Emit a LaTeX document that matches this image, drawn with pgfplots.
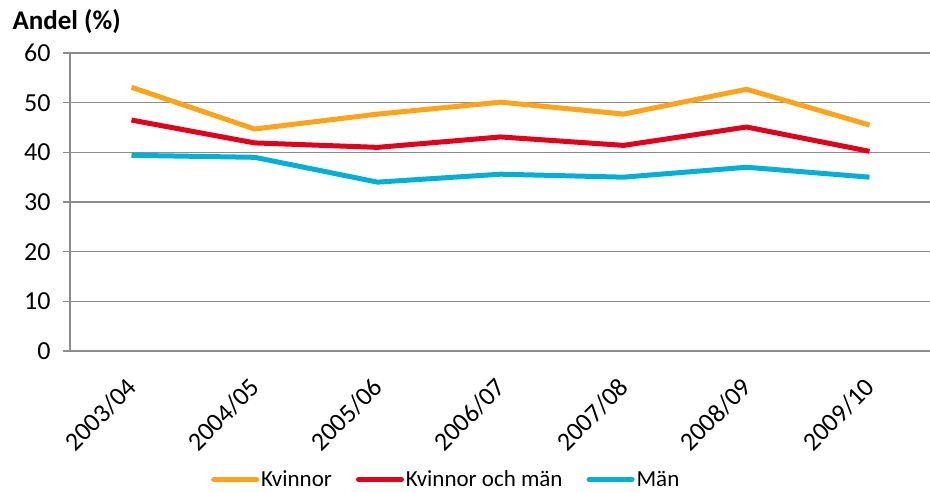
\documentclass[border=0pt]{standalone}
\usepackage{fontspec}
\setmainfont{Carlito}
\usepackage{pgfplots}
\pgfplotsset{compat=1.18}
\definecolor{cK}{HTML}{FFA31A}
\definecolor{cKM}{HTML}{E2001A}
\definecolor{cM}{HTML}{00B0D8}
\definecolor{gr}{HTML}{8C8C8C}
\begin{document}
\begin{tikzpicture}
\useasboundingbox (-70pt,-140pt) rectangle (860pt,351pt);
\begin{axis}[
  at={(0pt,0pt)}, anchor=south west,
  scale only axis, width=861pt, height=298pt,
  xmin=-0.5, xmax=6.5, ymin=0, ymax=60,
  axis x line*=bottom, axis y line*=left,
  axis line style={gr, line width=1.5pt, -},
  ytick={0,10,...,60},
  ymajorgrids, grid style={gr, line width=1.5pt},
  xtick={0,...,6},
  xticklabels={2003/04,2004/05,2005/06,2006/07,2007/08,2008/09,2009/10},
  x tick style={draw=none},
  y tick style={gr, line width=1.5pt},
  tick align=outside, major tick length=7pt,
  extra x ticks={-0.5,0.5,...,6.5},
  extra x tick labels={},
  extra x tick style={major tick length=8pt, tick style={gr, line width=1.5pt, draw=gr}, grid=none},
  /pgf/number format/assume math mode=true,
  tick label style={font=\fontsize{26}{30}\selectfont, black},
  yticklabel style={xshift=-9pt},
  xticklabel style={xshift=-6pt, yshift=-18pt, rotate=45, anchor=north east, inner sep=0pt},
  legend style={at={(0.437,-139.5pt)}, anchor=south, draw=none, legend columns=3,
    font=\fontsize{23}{27}\selectfont, inner xsep=0pt, inner ysep=0pt,
    /tikz/every even column/.append style={column sep=22pt}},
  legend image code/.code={\draw[#1, line width=5pt, line cap=round] (0pt,0pt) -- (43pt,0pt);},
  every axis plot/.append style={line width=5pt, line join=round},
  clip=false,
]
\addplot[cK] coordinates {(0,53.1) (1,44.7) (2,47.7) (3,50.1) (4,47.7) (5,52.7) (6,45.5)};
\addplot[cKM] coordinates {(0,46.5) (1,41.9) (2,41.0) (3,43.1) (4,41.4) (5,45.1) (6,40.2)};
\addplot[cM] coordinates {(0,39.4) (1,39.0) (2,34.0) (3,35.6) (4,35.0) (5,37.0) (6,35.0)};
\legend{Kvinnor, Kvinnor och män, Män}
\node[anchor=west, font=\bfseries\fontsize{27}{31}\selectfont] at (rel axis cs:0,1) [xshift=-61pt, yshift=31pt] {Andel (\%)};
\end{axis}
\end{tikzpicture}
\end{document}
